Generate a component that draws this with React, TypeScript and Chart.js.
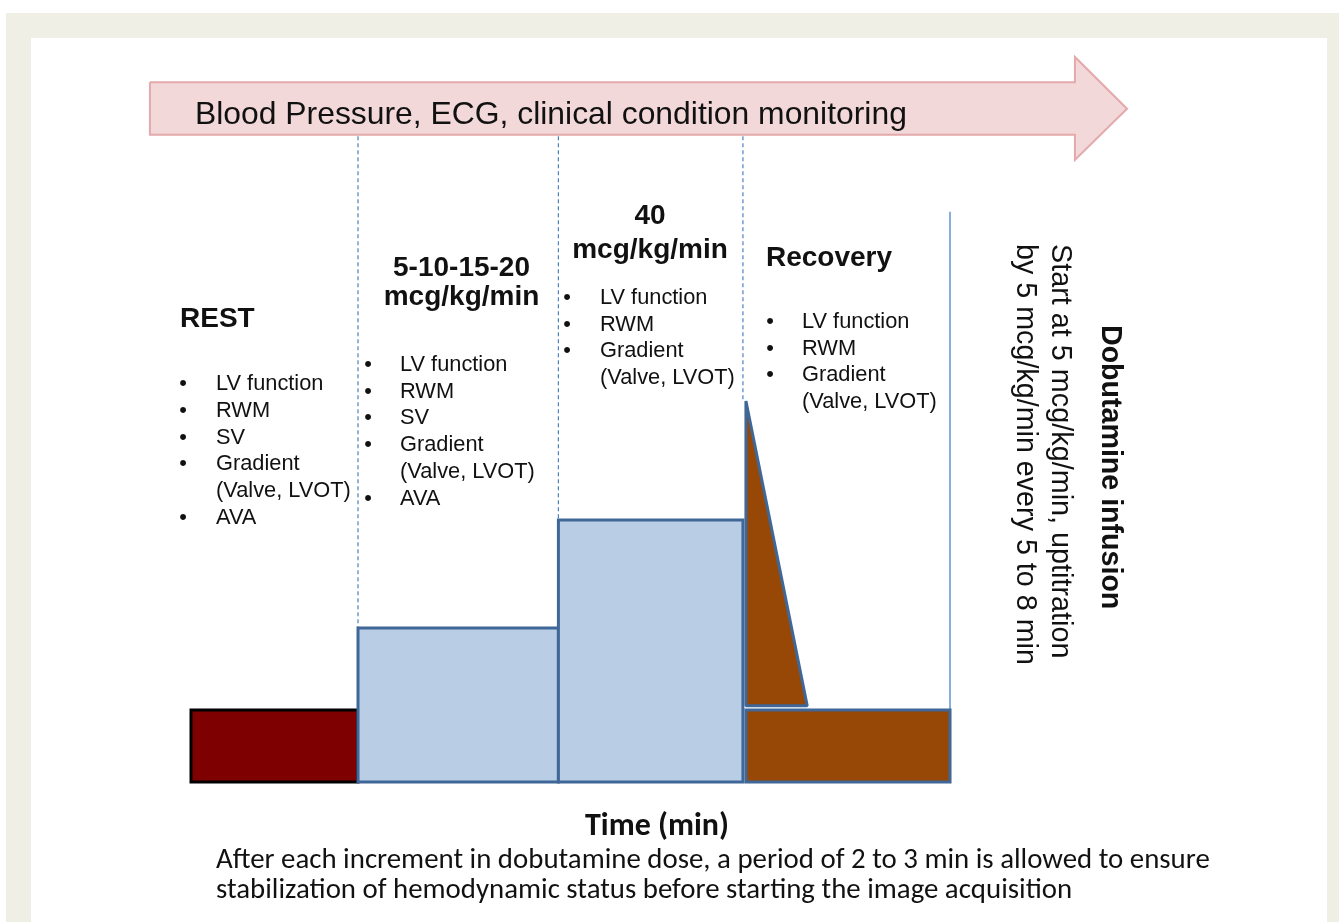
import React, { useEffect, useRef } from 'react';
import { Chart, registerables } from 'chart.js';

Chart.register(...registerables);

const W = 1339;
const H = 922;

// ---------------- data (schematic time in min, relative dobutamine level) ----------------
const stageHeaders = [['REST'], ['5-10-15-20', 'mcg/kg/min'], ['40', 'mcg/kg/min'], ['Recovery']];
const stageStart = [0, 10, 22, 33.23];
const stageEnd = [10, 22, 33.05, 45.45];
const stageLevel = [1, 2.14, 3.64, 1];

// recovery spike (dose drop after peak)
const spikeTime = [33.23, 33.23, 36.9];
const spikeLevel = [1.06, 5.29, 1.06];

// dashed stage boundaries
const boundaryTime = [10, 22, 33.05];
const boundaryTop = [2.14, 3.64, 5.29];
const boundaryFrom = 8.97;

// end of infusion line
const infusionEndTime = 45.45;
const infusionLine = [1, 7.92];

// monitoring arrow outline
const monitorTime = [-2.46, 52.93, 52.93, 56.05, 52.93, 52.93, -2.46, -2.46];
const monitorLevel = [9.72, 9.72, 10.07, 9.35, 8.64, 8.99, 8.99, 9.72];

// texts
const monitorText = 'Blood Pressure, ECG, clinical condition monitoring';
const restItems = ['LV function', 'RWM', 'SV', 'Gradient', '(Valve, LVOT)', 'AVA'];
const lowDoseItems = ['LV function', 'RWM', 'SV', 'Gradient', '(Valve, LVOT)', 'AVA'];
const peakItems = ['LV function', 'RWM', 'Gradient', '(Valve, LVOT)'];
const recoveryItems = ['LV function', 'RWM', 'Gradient', '(Valve, LVOT)'];
const infusionTitle = 'Dobutamine infusion';
const infusionLines = ['Start at 5 mcg/kg/min, uptitration', 'by 5 mcg/kg/min every 5 to 8 min'];
const xAxisTitle = 'Time (min)';
const captionLines = [
  'After each increment in dobutamine dose, a period of 2 to 3 min is allowed to ensure',
  'stabilization of hemodynamic status before starting the image acquisition',
];

// ---------------- layout / style ----------------
const PX0 = 191; // pixel of time 0
const PXU = 16.7; // px per time unit
const PY0 = 782; // pixel of level 0
const PYU = 72; // px per level unit

const ARIAL = '"Liberation Sans", Arial, Helvetica, sans-serif';
const CAPTION = '"Liberation Sans Narrow", Carlito, Lato, sans-serif';
const INK = '#111111';

const stageFill = ['#7f0000', '#b9cde5', '#b9cde5', '#974706'];
const stageBorder = ['#000000', '#3f6797', '#3f6797', '#3f6797'];

function pts(xs: number[], ys: number[]) {
  return xs.map((x, i) => ({ x, y: ys[i] }));
}

function closedRect(s: number, e: number, b: number, t: number) {
  const m = (s + e) / 2;
  return pts([m, s, s, e, e, m], [b, b, t, t, b, b]);
}

function fitSize(ctx: CanvasRenderingContext2D, text: string, weight: string, family: string, width: number) {
  ctx.font = `${weight} 100px ${family}`;
  const w = ctx.measureText(text).width;
  return (100 * width) / w;
}

const backgroundPlugin = {
  id: 'frame',
  beforeDraw(chart: any) {
    const ctx = chart.ctx as CanvasRenderingContext2D;
    ctx.save();
    ctx.fillStyle = '#ffffff';
    ctx.fillRect(0, 0, W, H);
    ctx.fillStyle = '#efefe5';
    ctx.fillRect(6, 13, W - 6, H - 13);
    ctx.fillStyle = '#ffffff';
    ctx.fillRect(31, 38, 1327 - 31, H - 38);
    ctx.restore();
  },
};

function drawList(ctx: CanvasRenderingContext2D, items: string[], bx: number, tx: number, y0: number, step: number) {
  ctx.font = `21.8px ${ARIAL}`;
  items.forEach((t, i) => {
    const y = y0 + step * i;
    if (!t.startsWith('(')) {
      ctx.textAlign = 'center';
      ctx.fillText('\u2022', bx, y);
    }
    ctx.textAlign = 'left';
    ctx.fillText(t, tx, y);
  });
}

const textPlugin = {
  id: 'texts',
  afterDatasetsDraw(chart: any) {
    const ctx = chart.ctx as CanvasRenderingContext2D;
    ctx.save();
    ctx.fillStyle = INK;
    ctx.textBaseline = 'alphabetic';

    // arrow text
    const s1 = fitSize(ctx, monitorText, '', ARIAL, 712);
    ctx.font = `${s1}px ${ARIAL}`;
    ctx.textAlign = 'left';
    ctx.fillText(monitorText, 195, 124);

    // stage headers
    ctx.font = `bold 28px ${ARIAL}`;
    ctx.textAlign = 'left';
    ctx.fillText(stageHeaders[0][0], 180, 327);
    ctx.textAlign = 'center';
    ctx.fillText(stageHeaders[1][0], 461.5, 276);
    ctx.fillText(stageHeaders[1][1], 461.5, 305);
    ctx.fillText(stageHeaders[2][0], 650, 224);
    ctx.fillText(stageHeaders[2][1], 650, 258);
    ctx.textAlign = 'left';
    ctx.fillText(stageHeaders[3][0], 766, 266);

    // lists
    drawList(ctx, restItems, 183, 216, 390, 26.8);
    drawList(ctx, lowDoseItems, 368, 400, 371, 26.7);
    drawList(ctx, peakItems, 567, 600, 304, 26.5);
    drawList(ctx, recoveryItems, 770, 802, 328, 26.7);

    // rotated texts
    const rot = (t: string, font: string, x: number, y: number) => {
      ctx.save();
      ctx.translate(x, y);
      ctx.rotate(Math.PI / 2);
      ctx.font = font;
      ctx.textAlign = 'left';
      ctx.fillText(t, 0, 0);
      ctx.restore();
    };
    rot(infusionTitle, `bold 28.6px ${ARIAL}`, 1102, 325);
    rot(infusionLines[0], `28.8px ${ARIAL}`, 1052, 244);
    rot(infusionLines[1], `28.7px ${ARIAL}`, 1017, 244);

    // x-axis title
    const s2 = fitSize(ctx, xAxisTitle, 'bold', CAPTION, 144);
    ctx.font = `bold ${s2}px ${CAPTION}`;
    ctx.textAlign = 'center';
    ctx.fillText(xAxisTitle, 657, 835);

    // caption
    const s3 = fitSize(ctx, captionLines[0], '', CAPTION, 994);
    ctx.font = `${s3}px ${CAPTION}`;
    ctx.textAlign = 'left';
    ctx.fillText(captionLines[0], 216, 868);
    ctx.fillText(captionLines[1], 216, 898);

    ctx.restore();
  },
};

export default function App() {
  const ref = useRef<HTMLCanvasElement | null>(null);

  useEffect(() => {
    document.body.style.margin = '0';
    const canvas = ref.current;
    if (!canvas) return;

    const base = {
      pointRadius: 0,
      pointHoverRadius: 0,
      tension: 0,
      borderJoinStyle: 'miter' as const,
      borderCapStyle: 'butt' as const,
    };

    const paint: any[] = [];
    // monitoring arrow
    paint.push({
      ...base,
      data: pts(monitorTime, monitorLevel),
      fill: 'shape',
      backgroundColor: '#f2d8d9',
      borderColor: '#e4a9ab',
      borderWidth: 2,
    });
    // dashed boundaries
    boundaryTime.forEach((t, i) => {
      paint.push({
        ...base,
        data: pts([t, t], [boundaryFrom, boundaryTop[i]]),
        fill: false,
        borderColor: '#4f81bd',
        borderWidth: 1.2,
        borderDash: [4, 3],
      });
    });
    // end of infusion line
    paint.push({
      ...base,
      data: pts([infusionEndTime, infusionEndTime], infusionLine),
      fill: false,
      borderColor: '#8aaedb',
      borderWidth: 2,
    });
    // stage bars
    stageStart.forEach((s, i) => {
      paint.push({
        ...base,
        data: closedRect(s, stageEnd[i], 0, stageLevel[i]),
        fill: 'shape',
        backgroundColor: stageFill[i],
        borderColor: stageBorder[i],
        borderWidth: 3,
      });
    });
    // recovery spike
    const mid = (spikeTime[0] + spikeTime[2]) / 2;
    paint.push({
      ...base,
      data: pts([mid, ...spikeTime, mid], [spikeLevel[0], ...spikeLevel, spikeLevel[2]]),
      fill: 'shape',
      backgroundColor: '#974706',
      borderColor: '#3f6797',
      borderWidth: 3,
      borderJoinStyle: 'bevel',
    });

    const n = paint.length;
    paint.forEach((d, i) => (d.order = n - i));

    const chart = new Chart(canvas, {
      type: 'line',
      data: { datasets: paint },
      options: {
        responsive: false,
        maintainAspectRatio: false,
        devicePixelRatio: 1,
        animation: false,
        events: [],
        layout: { padding: 0 },
        plugins: { legend: { display: false }, tooltip: { enabled: false } },
        scales: {
          x: { type: 'linear', display: false, min: -PX0 / PXU, max: (W - PX0) / PXU },
          y: { type: 'linear', display: false, min: -(H - PY0) / PYU, max: PY0 / PYU },
        },
      },
      plugins: [backgroundPlugin, textPlugin],
    } as any);

    return () => chart.destroy();
  }, []);

  return <canvas ref={ref} width={W} height={H} style={{ display: 'block', width: W, height: H }} />;
}
